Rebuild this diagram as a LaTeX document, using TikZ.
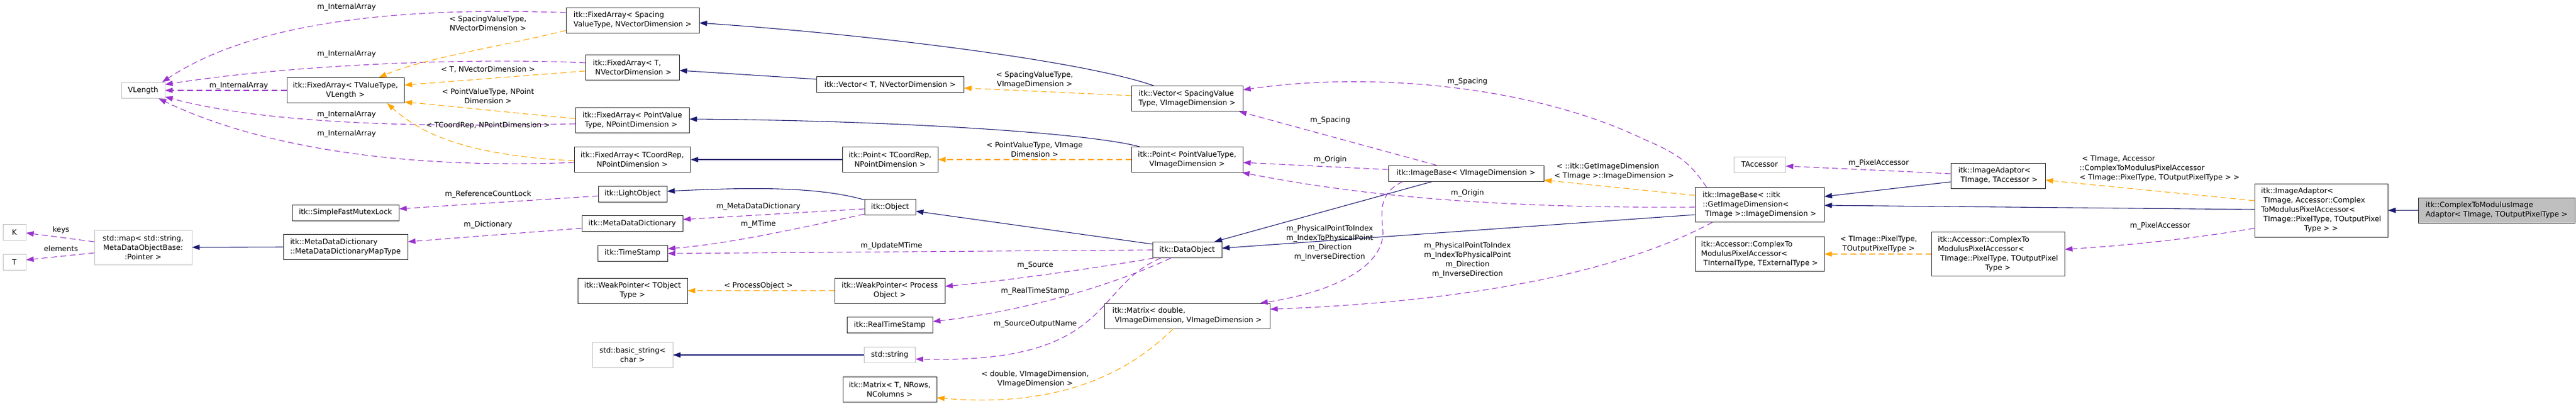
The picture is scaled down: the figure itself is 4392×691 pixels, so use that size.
\documentclass[tikz,border=0pt]{standalone}
\usepackage{fontspec}
\setmainfont{DejaVu Sans}
\usetikzlibrary{arrows.meta,calc}
\definecolor{navy}{HTML}{191970}
\definecolor{orchid}{HTML}{9A32CD}
\definecolor{tmplorange}{HTML}{FFA500}
\definecolor{boxgray}{HTML}{BFBFBF}
\newcommand{\indsp}{\hspace*{4pt}}

\begin{document}
\begin{tikzpicture}[x=1pt,y=-1pt,
    every node/.style={font=\fontsize{12.5}{16}\selectfont},
    cls/.style={draw=black!85,line width=0.9pt,inner sep=0pt,fill=white},
    ext/.style={cls,draw=boxgray},
    h1/.style={minimum height=27},
    h2/.style={minimum height=43},
    h3/.style={minimum height=59},
    h4/.style={minimum height=75},
    h5/.style={minimum height=91},
    lbl/.style={inner sep=0pt,align=center},
    inh/.style={draw=navy,line width=1.1pt,-{Triangle[length=13pt,width=9pt]}},
    use/.style={draw=orchid,line width=1.1pt,dash pattern=on 10pt off 6pt,-{Triangle[length=13pt,width=9pt]}},
    tmpl/.style={draw=tmplorange,line width=1.1pt,dash pattern=on 10pt off 6pt,-{Triangle[length=13pt,width=9pt]}}]

    \fill[white] (0,0) rectangle (4392,691);
    \useasboundingbox (0,0) rectangle (4392,691);

    % classes
    \node[ext,h1,minimum width=39] (k) at (24.5,396) {K};
    \node[ext,h1,minimum width=39] (t) at (24.5,446.5) {T};
    \node[ext,h3,minimum width=166,align=center] (map) at (244,421.5) {std::map< std::string,\\MetaDataObjectBase:\\:Pointer >};
    \node[ext,h1,minimum width=74] (vlength) at (244,154) {VLength};
    \node[cls,h2,minimum width=200,align=center] (fatv) at (589,154) {itk::FixedArray< TValueType,\\VLength >};
    \node[cls,h1,minimum width=182] (mutex) at (589,362.5) {itk::SimpleFastMutexLock};
    \node[cls,h2,minimum width=212,align=left] (maptype) at (589,421) {itk::MetaDataDictionary\\::MetaDataDictionaryMapType};

    \node[cls,h2,minimum width=227,align=left] (fas) at (1078.5,34.5) {itk::FixedArray< Spacing\\ValueType, NVectorDimension >};
    \node[cls,h2,minimum width=160,align=left] (fat) at (1078,114.5) {itk::FixedArray< T,\\\indsp NVectorDimension >};
    \node[cls,h2,minimum width=194,align=left] (fap) at (1078,205) {itk::FixedArray< PointValue\\\indsp Type, NPointDimension >};
    \node[cls,h2,minimum width=198,align=center] (fac) at (1078,272) {itk::FixedArray< TCoordRep,\\NPointDimension >};
    \node[cls,h1,minimum width=117] (light) at (1078.5,330.5) {itk::LightObject};
    \node[cls,h1,minimum width=172] (dict) at (1078,381) {itk::MetaDataDictionary};
    \node[cls,h1,minimum width=119] (stamp) at (1078.5,431.5) {itk::TimeStamp};
    \node[cls,h2,minimum width=187,align=center] (wpt) at (1078.5,495.5) {itk::WeakPointer< TObject\\Type >};
    \node[ext,h2,minimum width=137,align=center] (bstr) at (1078.5,605) {std::basic\_string<\\char >};

    \node[cls,h1,minimum width=251] (vect) at (1517.5,144) {itk::Vector< T, NVectorDimension >};
    \node[cls,h2,minimum width=163,align=center] (ptc) at (1517.5,272) {itk::Point< TCoordRep,\\NPointDimension >};
    \node[cls,h1,minimum width=87] (object) at (1517.5,353) {itk::Object};
    \node[cls,h2,minimum width=188,align=center] (wpp) at (1517,495.5) {itk::WeakPointer< Process\\Object >};
    \node[cls,h1,minimum width=146] (rts) at (1517,554) {itk::RealTimeStamp};
    \node[ext,h1,minimum width=87] (str) at (1517,605) {std::string};
    \node[cls,h2,minimum width=160,align=center] (matt) at (1517,664) {itk::Matrix< T, NRows,\\NColumns >};

    \node[cls,h2,minimum width=190,align=left] (vecs) at (2024,168) {itk::Vector< SpacingValue\\Type, VImageDimension >};
    \node[cls,h2,minimum width=190,align=center] (ptp) at (2024,272) {itk::Point< PointValueType,\\VImageDimension >};
    \node[cls,h1,minimum width=118] (data) at (2024,426) {itk::DataObject};
    \node[cls,h2,minimum width=282,align=left] (matd) at (2024,538.5) {itk::Matrix< double,\\\indsp VImageDimension, VImageDimension >};
    \node[cls,h1,minimum width=265] (ibv) at (2499.5,295.5) {itk::ImageBase< VImageDimension >};

    \node[cls,h3,minimum width=220,align=left] (ibi) at (3000,349) {itk::ImageBase< ::itk\\::GetImageDimension<\\\indsp TImage >::ImageDimension >};
    \node[cls,h3,minimum width=220,align=left] (acci) at (3000,433) {itk::Accessor::ComplexTo\\ModulusPixelAccessor<\\\indsp TInternalType, TExternalType >};
    \node[ext,h1,minimum width=88] (tacc) at (3000,280.5) {TAccessor};
    \node[cls,h2,minimum width=161,align=left] (iat) at (3406.5,299.5) {itk::ImageAdaptor<\\\indsp TImage, TAccessor >};
    \node[cls,h4,minimum width=227] (accp) at (3406.5,433) {\begin{tabular}{@{}l@{}}itk::Accessor::ComplexTo\\ModulusPixelAccessor<\\\indsp TImage::PixelType, TOutputPixel\\\multicolumn{1}{@{}c@{}}{Type >}\end{tabular}};
    \node[cls,h5,minimum width=227] (iac) at (3957.5,358.5) {\begin{tabular}{@{}l@{}}itk::ImageAdaptor<\\\indsp TImage, Accessor::Complex\\ToModulusPixelAccessor<\\\indsp TImage::PixelType, TOutputPixel\\\multicolumn{1}{@{}c@{}}{Type > >}\end{tabular}};
    \node[cls,h2,minimum width=267,align=left,fill=boxgray] (main) at (4256.5,358.5) {itk::ComplexToModulusImage\\Adaptor< TImage, TOutputPixelType >};

    % members of VLength
    \draw[use] ($(fas.west)+(0,-13)$) .. controls (650,10) and (420,45) .. ($(vlength.north east)+(-5,0)$);
    \draw[use] ($(fat.west)+(0,-7.5)$) .. controls (800,98) and (500,110) .. ($(vlength.east)+(0,-10)$);
    \draw[use] (fatv.west) -- (vlength.east);
    \draw[use] ($(fap.west)+(0,6)$) .. controls (700,218) and (450,210) .. ($(vlength.east)+(0,11)$);
    \draw[use] ($(fac.west)+(0,5)$) .. controls (650,290) and (420,240) .. ($(vlength.south east)+(-11,0)$);
    \node[lbl] (la1) at (591,12) {m\_InternalArray};
    \node[lbl] (la2) at (591,92) {m\_InternalArray};
    \node[lbl] (la3) at (407,146) {m\_InternalArray};
    \node[lbl] (la4) at (591,195) {m\_InternalArray};
    \node[lbl] (la5) at (591,228) {m\_InternalArray};

    % templates of FixedArray
    \draw[tmpl] ($(fas.west)+(0,17.5)$) .. controls (850,80) and (720,100) .. ($(fatv.north)+(57,0)$);
    \draw[tmpl] ($(fat.west)+(0,6.5)$) -- ($(fatv.east)+(0,-9)$);
    \draw[tmpl] ($(fap.west)+(0,-3)$) .. controls (900,195) and (760,180) .. ($(fatv.south east)+(0,-2)$);
    \draw[tmpl] ($(fac.west)+(0,2)$) .. controls (800,265) and (720,230) .. ($(fatv.south)+(71,0)$);
    \node[lbl] (lt1) at (832,40) {< SpacingValueType,\\NVectorDimension >};
    \node[lbl] (lt2) at (832,118) {< T, NVectorDimension >};
    \node[lbl] (lt3) at (832,164) {< PointValueType, NPoint\\Dimension >};
    \node[lbl] (lt4) at (832,214) {< TCoordRep, NPointDimension >};

    % Vector and Point
    \draw[inh] ($(vecs.north)+(-57,0)$) .. controls (1850,105) and (1500,60) .. ($(fas.east)+(0,4.5)$);
    \draw[inh] ($(vect.west)+(0,-9)$) -- ($(fat.east)+(0,5.5)$);
    \draw[inh] ($(ptp.north)+(-81,0)$) .. controls (1850,225) and (1500,205) .. ($(fap.east)+(0,-2)$);
    \draw[inh] (ptc.west) -- (fac.east);
    \draw[tmpl] ($(vecs.west)+(0,-5)$) -- ($(vect.east)+(0,6)$);
    \draw[tmpl] (ptp.west) -- (ptc.east);
    \node[lbl] (lt5) at (1764,136) {< SpacingValueType,\\VImageDimension >};
    \node[lbl] (lt6) at (1764,255) {< PointValueType, VImage\\Dimension >};

    % Object
    \draw[inh] ($(object.north west)+(0,1.5)$) .. controls (1400,320) and (1300,318) .. ($(light.east)+(0,-4.5)$);
    \draw[use] ($(light.west)+(0,3.5)$) -- ($(mutex.east)+(0,-6.5)$);
    \draw[use] ($(dict.west)+(0,8)$) -- ($(maptype.east)+(0,-9)$);
    \draw[use] ($(object.west)+(0,3)$) -- ($(dict.east)+(0,-7)$);
    \draw[use] ($(object.west)+(0,12)$) .. controls (1380,385) and (1250,415) .. ($(stamp.east)+(0,-7.5)$);
    \node[lbl] (lm1) at (832,331) {m\_ReferenceCountLock};
    \node[lbl] (lm2) at (832,383) {m\_Dictionary};
    \node[lbl] (lm3) at (1293,352) {m\_MetaDataDictionary};
    \node[lbl] (lm4) at (1293,382) {m\_MTime};

    % DataObject
    \draw[inh] ($(data.north west)+(0,4)$) -- ($(object.east)+(0,7)$);
    \draw[use] (data.west) -- ($(stamp.east)+(0,0.5)$);
    \draw[use] ($(data.south west)+(2,0)$) .. controls (1850,460) and (1700,480) .. ($(wpp.east)+(0,-7.5)$);
    \draw[use] ($(data.south)+(-28,0)$) .. controls (1900,485) and (1750,530) .. ($(rts.east)+(0,-6)$);
    \draw[use] ($(data.south)+(-45,0)$) .. controls (1860,490) and (1900,620) .. ($(str.east)+(0,7)$);
    \draw[inh] (str.west) -- (bstr.east);
    \draw[tmpl] (wpp.west) -- (wpt.east);
    \draw[tmpl] ($(matd.south)+(-24,0)$) .. controls (1920,640) and (1800,695) .. ($(matt.east)+(0,14)$);
    \node[lbl] (ld1) at (1520,419) {m\_UpdateMTime};
    \node[lbl] (ld2) at (1293,487) {< ProcessObject >};
    \node[lbl] (ld3) at (1765,452) {m\_Source};
    \node[lbl] (ld4) at (1765,496) {m\_RealTimeStamp};
    \node[lbl] (ld5) at (1765,552) {m\_SourceOutputName};
    \node[lbl] (ld6) at (1765,646) {< double, VImageDimension,\\VImageDimension >};

    % ImageBase
    \draw[inh] ($(ibv.south)+(-57.5,0)$) -- ($(data.north east)+(-13,0)$);
    \draw[inh] ($(ibi.west)+(0,17)$) -- ($(data.east)+(0,-3)$);
    \draw[use] ($(ibi.north west)+(20,0)$) .. controls (2880,275) and (2860,262) .. (2800,236) .. controls (2620,150) and (2350,120) .. ($(vecs.north east)+(0,7)$);
    \draw[use] ($(ibv.north)+(-50.5,0)$) -- ($(vecs.south east)+(-7,0)$);
    \draw[use] ($(ibv.west)+(0,-6.5)$) -- ($(ptp.east)+(0,5)$);
    \draw[use] ($(ibi.west)+(0,4)$) .. controls (2600,355) and (2350,340) .. ($(ptp.south east)+(-2,0)$);
    \draw[tmpl] ($(ibi.west)+(0,-16)$) -- ($(ibv.east)+(0,11.5)$);
    \draw[use] ($(ibv.south west)+(25,0)$) .. controls (2350,330) and (2355,360) .. (2358,396) .. controls (2358,460) and (2260,500) .. ($(matd.north east)+(-17,0)$);
    \draw[use] ($(ibi.south west)+(30,0)$) .. controls (2750,470) and (2480,515) .. ($(matd.east)+(0,-11.5)$);
    \node[lbl] (li1) at (2502,139) {m\_Spacing};
    \node[lbl] (li2) at (2268,205) {m\_Spacing};
    \node[lbl] (li3) at (2268,272) {m\_Origin};
    \node[lbl] (li4) at (2502,329) {m\_Origin};
    \node[lbl,align=left] (li5) at (2752,292) {\indsp< ::itk::GetImageDimension\\< TImage >::ImageDimension >};
    \node[lbl] (li6) at (2267,414) {m\_PhysicalPointToIndex\\m\_IndexToPhysicalPoint\\m\_Direction\\m\_InverseDirection};
    \node[lbl] (li7) at (2502,443) {m\_PhysicalPointToIndex\\m\_IndexToPhysicalPoint\\m\_Direction\\m\_InverseDirection};

    % adaptors
    \draw[use] ($(iat.west)+(0,-3.5)$) -- ($(tacc.east)+(0,2.5)$);
    \draw[inh] ($(iat.west)+(0,10.5)$) -- ($(ibi.east)+(0,-14)$);
    \draw[tmpl] (accp.west) -- (acci.east);
    \draw[tmpl] ($(iac.west)+(0,-16.5)$) -- ($(iat.east)+(0,7.5)$);
    \draw[inh] ($(iac.west)+(0,-1.5)$) -- ($(ibi.east)+(0,1)$);
    \draw[use] ($(iac.west)+(0,30.5)$) .. controls (3720,410) and (3600,420) .. ($(accp.east)+(0,-8)$);
    \draw[inh] (main.west) -- (iac.east);
    \node[lbl] (lp1) at (3203,278) {m\_PixelAccessor};
    \node[lbl] (lp2) at (3203,416) {< TImage::PixelType,\\TOutputPixelType >};
    \node[lbl,align=left] (lp3) at (3682,287) {\indsp< TImage, Accessor\\::ComplexToModulusPixelAccessor\\< TImage::PixelType, TOutputPixelType > >};
    \node[lbl] (lp4) at (3683,385) {m\_PixelAccessor};

    % std::map
    \draw[use] ($(map.west)+(0,-9.5)$) -- ($(k.east)+(0,1)$);
    \draw[use] ($(map.west)+(0,9.5)$) -- ($(t.east)+(0,-3.5)$);
    \draw[inh] (maptype.west) -- (map.east);
    \node[lbl] (lk1) at (104,392) {keys};
    \node[lbl] (lk2) at (104,424) {elements};
\end{tikzpicture}
\end{document}
